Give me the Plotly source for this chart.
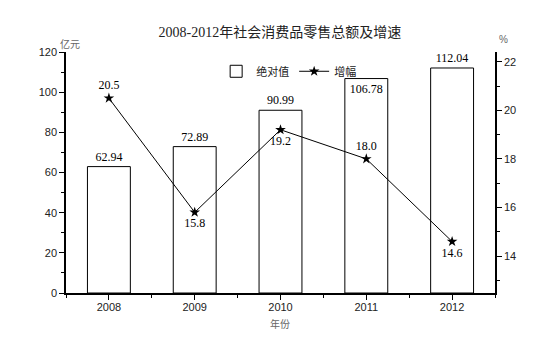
import plotly.graph_objects as go

years = [2008, 2009, 2010, 2011, 2012]
year_labels = ["2008", "2009", "2010", "2011", "2012"]
abs_values = [62.94, 72.89, 90.99, 106.78, 112.04]
growth = [20.5, 15.8, 19.2, 18.0, 14.6]

bar_text_pos = ["outside", "outside", "outside", "inside", "outside"]
line_text_pos = ["top center", "bottom center", "bottom center", "top center", "bottom center"]

serif = "Liberation Serif, Times New Roman, Noto Sans CJK SC, serif"
sans = "Liberation Sans, Arial, Noto Sans CJK SC, sans-serif"
cjk = "Noto Sans CJK SC, sans-serif"

fig = go.Figure()
fig.add_trace(go.Bar(
    x=years, y=abs_values, name="绝对值", width=0.5,
    marker=dict(color="white", line=dict(color="black", width=1)),
    text=[f"{v:.2f}" for v in abs_values],
    textposition=bar_text_pos, insidetextanchor="end",
    textfont=dict(family=serif, size=12, color="black"),
    constraintext="none", cliponaxis=False,
))
fig.add_trace(go.Scatter(
    x=years, y=growth, name="增幅", yaxis="y2",
    mode="lines+markers+text",
    line=dict(color="black", width=1),
    marker=dict(symbol="star", size=8, color="black"),
    text=[f"{v:.1f}" for v in growth],
    textposition=line_text_pos,
    textfont=dict(family=serif, size=12, color="black"),
    cliponaxis=False,
))

tickfont = dict(family=sans, size=11, color="#222")
fig.update_layout(
    width=553, height=354,
    margin=dict(l=66, r=58, t=52, b=61),
    plot_bgcolor="white", paper_bgcolor="white",
    title=dict(text="2008-2012年社会消费品零售总额及增速",
               font=dict(family=serif, size=14, color="#222"),
               x=0.506, xanchor="center", yref="container", y=0.91, yanchor="middle"),
    showlegend=True,
    legend=dict(orientation="h", x=0.35, xanchor="left", y=0.92, yanchor="middle",
                font=dict(family=cjk, size=11, color="#222"),
                bgcolor="rgba(0,0,0,0)", itemwidth=30, tracegroupgap=0),
    xaxis=dict(range=[2007.5, 2012.5], tickmode="array", tickvals=years, ticktext=year_labels,
               ticks="outside", ticklen=5, tickcolor="black", tickwidth=1,
               showline=True, linecolor="black", linewidth=1.5,
               showgrid=False, zeroline=False, tickfont=tickfont, ticklabelstandoff=-2,
               minor=dict(tick0=2007.5, dtick=0.5, ticks="outside", ticklen=3,
                          tickcolor="black", showgrid=False)),
    yaxis=dict(range=[0, 120], tick0=0, dtick=20,
               ticks="outside", ticklen=5, tickcolor="black",
               showline=True, linecolor="black", linewidth=1.5,
               showgrid=False, zeroline=False, tickfont=tickfont,
               minor=dict(dtick=10, ticks="outside", ticklen=3, tickcolor="black", showgrid=False)),
    yaxis2=dict(range=[12.48, 22.4], tick0=0, dtick=2, overlaying="y", side="right",
                ticks="outside", ticklen=5, tickcolor="black",
                showline=True, linecolor="black", linewidth=1.5,
                showgrid=False, zeroline=False, tickfont=tickfont,
                minor=dict(dtick=1, ticks="outside", ticklen=3, tickcolor="black", showgrid=False)),
    annotations=[
        dict(text="亿元", xref="paper", yref="paper", x=0.01, y=1.037,
             xanchor="center", yanchor="middle",
             showarrow=False, font=dict(family=cjk, size=10, color="#666")),
        dict(text="%", xref="paper", yref="paper", x=1.019, y=1.05,
             xanchor="center", yanchor="middle",
             showarrow=False, font=dict(family=sans, size=10, color="#666")),
        dict(text="年份", xref="paper", yref="paper", x=0.499, y=-0.1245,
             xanchor="center", yanchor="middle",
             showarrow=False, font=dict(family=cjk, size=10, color="#666")),
    ],
)

fig.write_html("out.html")
